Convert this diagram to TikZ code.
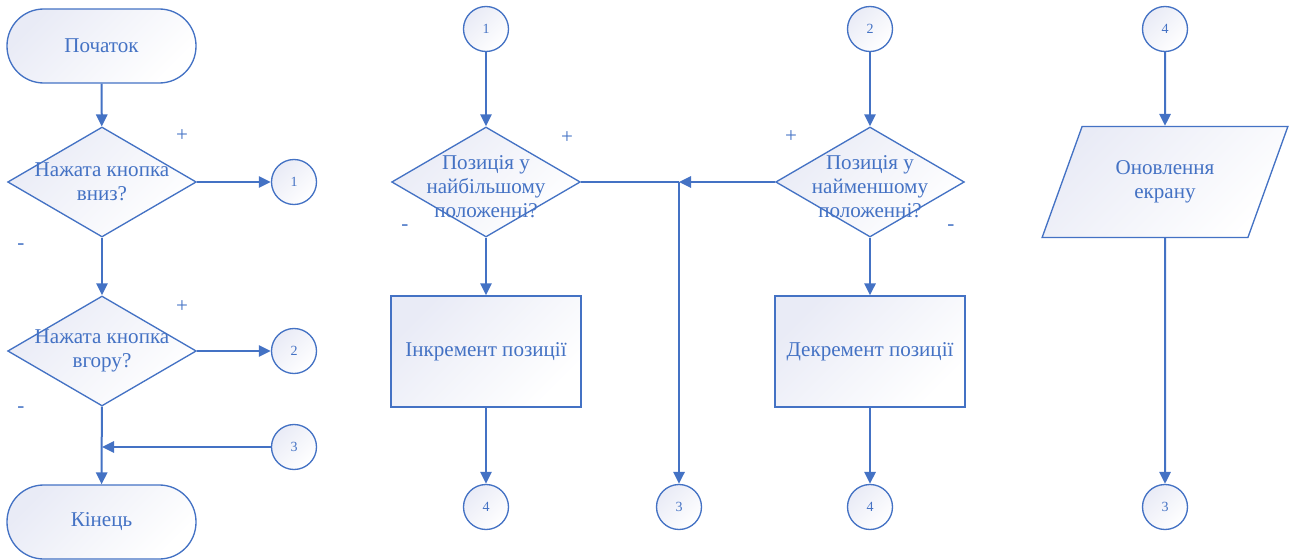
\documentclass[tikz,border=0pt]{standalone}
\usepackage{fontspec}
\setmainfont{Liberation Serif}
\usetikzlibrary{arrows.meta,shapes.geometric}
\definecolor{flowblue}{RGB}{68,114,196}
\definecolor{flowfill}{RGB}{233,235,246}

\begin{document}
\begin{tikzpicture}[x=0.75pt,y=-0.75pt,
  every node/.style={align=center,text=flowblue,font=\fontsize{15.8}{18}\selectfont},
  shaded/.style={draw=flowblue,line width=1pt,top color=flowfill,bottom color=white,shading angle=45},
  terminal/.style={shaded,rectangle,rounded corners=27.5pt,minimum width=141.75pt,minimum height=55.5pt},
  decision/.style={shaded,diamond,inner sep=0pt,minimum width=141.5pt,minimum height=82.5pt},
  process/.style={shaded,rectangle,minimum width=142.5pt,minimum height=83.25pt},
  io/.style={shaded,trapezium,trapezium left angle=63.2,trapezium right angle=116.8,
    trapezium stretches=true,minimum width=184.5pt,minimum height=83.25pt},
  connector/.style={shaded,circle,inner sep=0pt,minimum size=33.75pt,font=\fontsize{10.5}{12}\selectfont},
  to/.style={-{Triangle[width=8.5pt,length=9pt]},line width=1.5pt,draw=flowblue}]

  \useasboundingbox (0,0) rectangle (1297,560);

  % Main loop
  \node[terminal] (start) at (101.5,46) {Початок};
  \node[decision] (down) at (102,182) {};
  \node (downtext) at (down) {Нажата кнопка\\вниз?};
  \node[decision] (up) at (102,351) {};
  \node (uptext) at (up) {Нажата кнопка\\вгору?};
  \node[terminal] (finish) at (101.5,522) {Кінець};
  \node[connector] (outone) at (294,182) {1};
  \node[connector] (outtwo) at (294,351) {2};
  \node[connector] (inthree) at (294,447) {3};
  \node (downyes) at (182,136) {+};
  \node (downno) at (21,247) {-};
  \node (upyes) at (182,307) {+};
  \node (upno) at (21,410) {-};
  \coordinate (join) at (up.south |- inthree);

  % Increment branch
  \node[connector] (inone) at (486,29) {1};
  \node[decision] (top) at (486,182) {};
  \node (toptext) at (486,187) {Позиція у\\найбільшому\\положенні?};
  \node[process] (inc) at (486,351.5) {Інкремент позиції};
  \node[connector] (incout) at (486,507) {4};
  \node (topyes) at (567,138) {+};
  \node (topno) at (405,228) {-};

  % Decrement branch
  \node[connector] (intwo) at (870,29) {2};
  \node[decision] (bottom) at (870,182) {};
  \node (bottomtext) at (870,187) {Позиція у\\найменшому\\положенні?};
  \node[process] (dec) at (870,351.5) {Декремент позиції};
  \node[connector] (decout) at (870,507) {4};
  \node (bottomyes) at (791,137) {+};
  \node (bottomno) at (951,228) {-};
  \coordinate (merge) at (679,182);
  \node[connector] (outthree) at (679,507) {3};

  % Screen refresh
  \node[connector] (infour) at (1165,29) {4};
  \node[io] (refresh) at (1165,182) {Оновлення\\екрану};
  \node[connector] (refreshout) at (1165,507) {3};

  % Arrows
  \draw[to] (start) -- (down);
  \draw[to] (down) -- (up);
  \draw[to] (up) -- (finish);
  \draw[to] (down) -- (outone);
  \draw[to] (up) -- (outtwo);
  \draw[to] (inthree) -- (join);

  \draw[to] (inone) -- (top);
  \draw[to] (top) -- (inc);
  \draw[to] (inc) -- (incout);
  \draw[line width=1.5pt,draw=flowblue] (top.east) -- (merge);
  \draw[to] (merge) -- (outthree);

  \draw[to] (intwo) -- (bottom);
  \draw[to] (bottom) -- (dec);
  \draw[to] (dec) -- (decout);
  \draw[to] (bottom.west) -- (merge);

  \draw[to] (infour) -- (refresh);
  \draw[to] (refresh) -- (refreshout);
\end{tikzpicture}
\end{document}
